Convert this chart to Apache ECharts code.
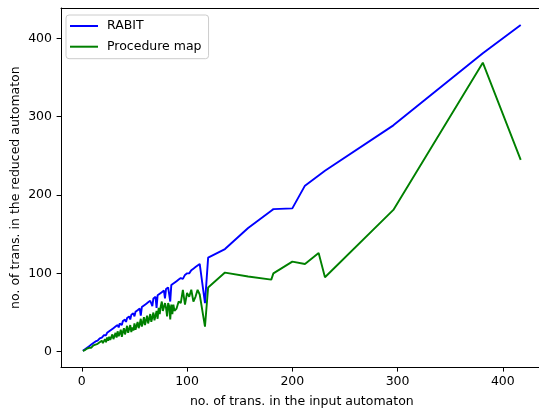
<!DOCTYPE html>
<html>
<head>
<meta charset="utf-8">
<script src="https://cdn.jsdelivr.net/npm/echarts@6/dist/echarts.min.js"></script>
<style>html,body{margin:0;padding:0;background:#fff;}#c{width:539px;height:409px;}</style>
</head>
<body>
<div id="c"></div>
<script>
var xInput = [1,2,3,4,5,6,7,8,9,10,11,12,13,14,15,16,17,18,19,20,21,22,23,24,25,26,27,28,29,30,31,32,33,34,35,36,37,38,39,40,41,42,43,44,45,46,47,48,49,50,51,52,53,54,55,56,57,58,59,60,61,62,63,64,65,66,67,68,69,70,71,72,73,74,75,76,77,78,79,80,81,82,83,84,85,86,87,88,90,92,94,96,98,100,102,104,106,108,110,112,117,120,136,158,180,182,200,212,225,231,296,381,417];
var rabit = [1,2,3,4,5,6,7,8,9,10,11,12,13,14,14,16,17,18,18,20,21,22,21,24,25,26,25,28,29,30,28,32,33,34,31,36,37,34,39,40,41,38,43,44,45,41,47,48,49,45,51,52,53,54,55,46,57,58,59,60,61,62,63,64,65,66,58,68,69,70,56,72,73,74,75,76,77,78,68,80,81,82,83,64,85,86,87,88,90,92,94,93,98,100,100,104,106,108,110,112,62,120,131,158,180,182,183,212,225,231,289,381,417];
var procMap = [1,2,2,3,4,4,5,6,5,7,8,6,9,8,10,9,12,10,14,11,13,16,12,18,14,19,15,17,22,16,20,24,18,26,20,23,28,19,25,30,22,27,33,24,29,34,25,31,27,36,28,33,38,30,35,42,32,37,44,34,40,46,36,42,48,38,44,50,40,46,52,42,56,48,58,64,52,50,62,56,45,62,58,41,60,48,60,52,55,64,62,79,60,75,70,79,64,70,79,73,32,82,101,96,92,100,115,112,126,95,181,369,245];
var xTicks = [0,100,200,300,400];
var yTicks = [0,100,200,300,400];
var seriesNames = ['RABIT','Procedure map'];

function pairs(xs, ys){ return xs.map(function(x,i){ return [x, ys[i]]; }); }

var font = 'DejaVu Sans';
var chart = echarts.init(document.getElementById('c'), null, {renderer:'canvas'});
chart.setOption({
  animation: false,
  backgroundColor: '#fff',
  textStyle: {fontFamily: font},
  grid: {left: 61, top: 8, width: 481.6, height: 359.2, show: false, containLabel: false, outerBoundsMode: 'none'},
  legend: {
    orient: 'vertical', left: 66, top: 15,
    data: seriesNames,
    icon: 'rect',
    itemWidth: 28, itemHeight: 2, itemGap: 6.7,
    padding: [4,7,5,4],
    borderColor: '#cccccc', borderWidth: 1, borderRadius: 3,
    backgroundColor: 'rgba(255,255,255,0.8)',
    textStyle: {fontFamily: font, fontSize: 12.5, lineHeight: 14, color: '#000', padding: [0,0,0,4]}
  },
  xAxis: [{
    type: 'value', min: -19.8, max: 437.8,
    name: 'no. of trans. in the input automaton', nameLocation: 'middle', nameGap: 28, nameMoveOverlap: false,
    nameTextStyle: {fontFamily: font, fontSize: 12.5, color: '#000'},
    axisLine: {show: true, onZero: false, lineStyle: {color: '#000', width: 1}},
    axisTick: {show: true, length: 4.4, inside: false, customValues: xTicks, lineStyle: {color: '#000'}},
    axisLabel: {customValues: xTicks, margin: 8, fontFamily: font, fontSize: 12.5, color: '#000'},
    splitLine: {show: false}
  }, {
    type: 'value', position: 'top', min: -19.8, max: 437.8,
    axisLine: {show: true, onZero: false, lineStyle: {color: '#000', width: 1}},
    axisTick: {show: false}, axisLabel: {show: false}, splitLine: {show: false}
  }],
  yAxis: {
    type: 'value', min: -19.85, max: 438.85,
    name: 'no. of trans. in the reduced automaton', nameLocation: 'middle', nameGap: 39, nameMoveOverlap: false,
    nameTextStyle: {fontFamily: font, fontSize: 12.5, color: '#000'},
    axisLine: {show: true, onZero: false, lineStyle: {color: '#000', width: 1}},
    axisTick: {show: true, length: 4.4, inside: false, customValues: yTicks, lineStyle: {color: '#000'}},
    axisLabel: {customValues: yTicks, margin: 9, fontFamily: font, fontSize: 12.5, color: '#000'},
    splitLine: {show: false}
  },
  series: [
    {name: seriesNames[0], type: 'line', data: pairs(xInput, rabit), symbol: 'none', showSymbol: false,
     lineStyle: {color: '#0000ff', width: 1.9}, itemStyle: {color: '#0000ff'}},
    {name: seriesNames[1], type: 'line', data: pairs(xInput, procMap), symbol: 'none', showSymbol: false,
     lineStyle: {color: '#008000', width: 1.9}, itemStyle: {color: '#008000'}}
  ]
});
</script>
</body>
</html>
